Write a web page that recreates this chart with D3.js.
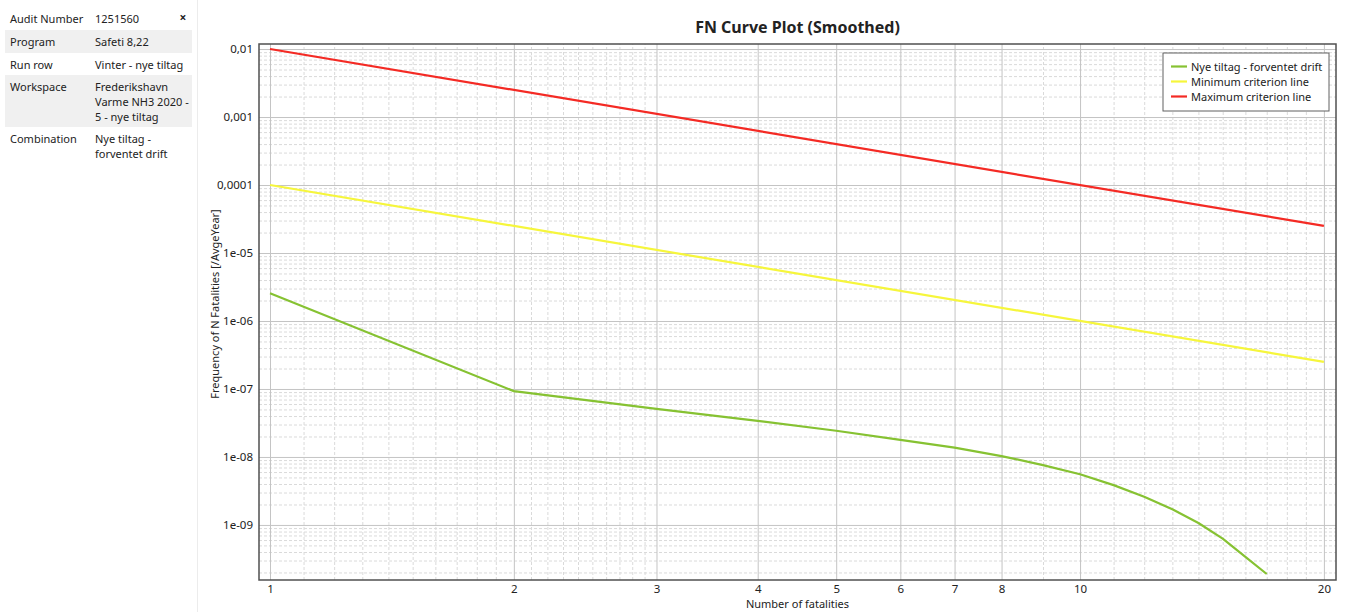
<!DOCTYPE html>
<html>
<head>
<meta charset="utf-8">
<script src="https://cdn.jsdelivr.net/npm/d3@7"></script>
<style>
  body { margin: 0; background: #fff; font-family: "Noto Sans", "Open Sans", sans-serif; }
  svg text { fill: #222; }
</style>
</head>
<body>
<svg id="chart" width="1346" height="612"></svg>
<script>
// info table
const infoLabels = ['Audit Number', 'Program', 'Run row', 'Workspace', 'Combination'];
const infoValues = [['1251560'], ['Safeti 8,22'], ['Vinter - nye tiltag'],
  ['Frederikshavn', 'Varme NH3 2020 -', '5 - nye tiltag'], ['Nye tiltag -', 'forventet drift']];

// series
const seriesNames = ['Nye tiltag - forventet drift', 'Minimum criterion line', 'Maximum criterion line'];
const seriesColors = ['#86c232', '#f6f63c', '#f42a24'];

const curveN = [1, 2, 3, 4, 5, 6, 7, 8, 9, 10, 11, 12, 13, 14, 15, 16, 17];
const curveF = [2.55e-6, 9.3e-8, 5.1e-8, 3.4e-8, 2.43e-8, 1.78e-8, 1.37e-8, 1.03e-8, 7.6e-9,
  5.57e-9, 3.85e-9, 2.6e-9, 1.7e-9, 1.07e-9, 6.3e-10, 3.4e-10, 1.9e-10];

const criterionN = [1, 20];
const minF = [1e-4, 2.5e-7];
const maxF = [1e-2, 2.5e-5];

// ticks
const xTicks = [1, 2, 3, 4, 5, 6, 7, 8, 10, 20];
const xTickLabels = ['1', '2', '3', '4', '5', '6', '7', '8', '10', '20'];
const xMinor = [1.1, 1.2, 1.3, 1.4, 1.5, 1.6, 1.7, 1.8, 1.9, 2.1, 2.2, 2.3, 2.4, 2.5, 2.6, 2.7, 2.8, 2.9,
  9, 11, 12, 13, 14, 15, 16, 17, 18, 19];
const yTicks = [1e-2, 1e-3, 1e-4, 1e-5, 1e-6, 1e-7, 1e-8, 1e-9];
const yTickLabels = ['0,01', '0,001', '0,0001', '1e-05', '1e-06', '1e-07', '1e-08', '1e-09'];

const svg = d3.select('#chart');

// ---- left info panel
const rowTops = [7, 30, 53, 75, 127];
const rowHeights = [23, 23, 22, 52, 40];
const panel = svg.append('g').attr('class', 'info');
infoLabels.forEach((lab, i) => {
  if (i % 2 === 1) {
    panel.append('rect')
      .attr('x', 5).attr('y', rowTops[i])
      .attr('width', 187).attr('height', rowHeights[i])
      .attr('fill', '#f0f0f0');
  }
  panel.append('text')
    .attr('x', 10).attr('y', rowTops[i] + 16)
    .style('font-size', '11px')
    .text(lab);
  infoValues[i].forEach((v, j) => {
    panel.append('text')
      .attr('x', 95).attr('y', rowTops[i] + 16 + j * 15)
      .style('font-size', '11px')
      .text(v);
  });
});
panel.append('text')
  .attr('x', 183).attr('y', 22)
  .attr('text-anchor', 'middle')
  .style('font-size', '12px').style('font-weight', 'bold')
  .text('×');
svg.append('line')
  .attr('x1', 197.5).attr('x2', 197.5).attr('y1', 0).attr('y2', 612)
  .attr('stroke', '#ececec');

// ---- plot
const margin = { top: 44, right: 10, bottom: 32, left: 259 };
const width = 1336 - margin.left, height = 580 - margin.top;

const x = d3.scaleLog().domain([0.9692, 20.7]).range([0, width]);
const y = d3.scaleLog().domain([1.55e-10, 0.01186]).range([height, 0]);

const g = svg.append('g')
  .attr('transform', 'translate(' + margin.left + ',' + margin.top + ')');

// minor horizontal grid
const yMinor = [];
yTicks.concat([1e-10]).forEach((d) => {
  [2, 3, 4, 5, 6, 7, 8, 9].forEach((k) => {
    const v = d * k;
    if (v > y.domain()[0] && v < y.domain()[1]) yMinor.push(v);
  });
});

g.append('g').attr('class', 'grid-minor')
  .call(d3.axisLeft(y).tickValues(yMinor).tickSize(-width).tickFormat(''))
  .call((s) => s.select('.domain').remove())
  .selectAll('line').attr('stroke', '#dadada').attr('stroke-dasharray', '3,2');

g.append('g').attr('class', 'grid-minor')
  .attr('transform', 'translate(0,' + height + ')')
  .call(d3.axisBottom(x).tickValues(xMinor).tickSize(-height).tickFormat(''))
  .call((s) => s.select('.domain').remove())
  .selectAll('line').attr('stroke', '#dadada').attr('stroke-dasharray', '3,2');

// major grid + axes
g.append('g').attr('class', 'y-axis')
  .call(d3.axisLeft(y).tickValues(yTicks).tickSize(-width).tickPadding(6)
    .tickFormat((d, i) => yTickLabels[i]))
  .call((s) => s.select('.domain').remove())
  .call((s) => s.selectAll('line').attr('stroke', '#c4c4c4'))
  .call((s) => s.selectAll('text').style('font-size', '11.5px').attr('fill', '#222')
    .style('font-family', '"Noto Sans", sans-serif'));

g.append('g').attr('class', 'x-axis')
  .attr('transform', 'translate(0,' + height + ')')
  .call(d3.axisBottom(x).tickValues(xTicks).tickSize(-height).tickPadding(5)
    .tickFormat((d, i) => xTickLabels[i]))
  .call((s) => s.select('.domain').remove())
  .call((s) => s.selectAll('line').attr('stroke', '#c4c4c4'))
  .call((s) => s.selectAll('text').style('font-size', '11.5px').attr('fill', '#222')
    .style('font-family', '"Noto Sans", sans-serif'));

// border
g.append('rect')
  .attr('width', width).attr('height', height)
  .attr('fill', 'none').attr('stroke', '#505050').attr('stroke-width', 1.5);

// lines
const line = d3.line()
  .x((d) => x(d[0]))
  .y((d) => y(d[1]));

const lines = [
  d3.zip(curveN, curveF),
  d3.zip(criterionN, minF),
  d3.zip(criterionN, maxF)
];

g.append('g').attr('class', 'lines')
  .selectAll('path')
  .data(lines)
  .enter()
  .append('path')
  .attr('d', line)
  .attr('fill', 'none')
  .attr('stroke', (d, i) => seriesColors[i])
  .attr('stroke-width', 2.2)
  .attr('stroke-linejoin', 'round');

// legend
const legend = svg.append('g').attr('class', 'legend')
  .attr('transform', 'translate(1163,53)');
legend.append('rect')
  .attr('width', 166).attr('height', 58)
  .attr('fill', '#fff').attr('stroke', '#606060');
seriesNames.forEach((name, i) => {
  const ly = 13.5 + i * 15;
  legend.append('line')
    .attr('x1', 8).attr('x2', 24).attr('y1', ly).attr('y2', ly)
    .attr('stroke', seriesColors[i]).attr('stroke-width', 2.2);
  legend.append('text')
    .attr('x', 28).attr('y', ly + 4)
    .style('font-size', '11px')
    .text(name);
});

// titles
svg.append('text')
  .attr('x', margin.left + width / 2).attr('y', 33)
  .attr('text-anchor', 'middle')
  .style('font-size', '16px').style('font-weight', 'bold')
  .text('FN Curve Plot (Smoothed)');

svg.append('text')
  .attr('x', margin.left + width / 2).attr('y', 608)
  .attr('text-anchor', 'middle')
  .style('font-size', '11px')
  .text('Number of fatalities');

svg.append('text')
  .attr('transform', 'translate(219,' + (margin.top + 260) + ') rotate(-90)')
  .attr('text-anchor', 'middle')
  .style('font-size', '11px')
  .text('Frequency of N Fatalities [/AvgeYear]');
</script>
</body>
</html>
